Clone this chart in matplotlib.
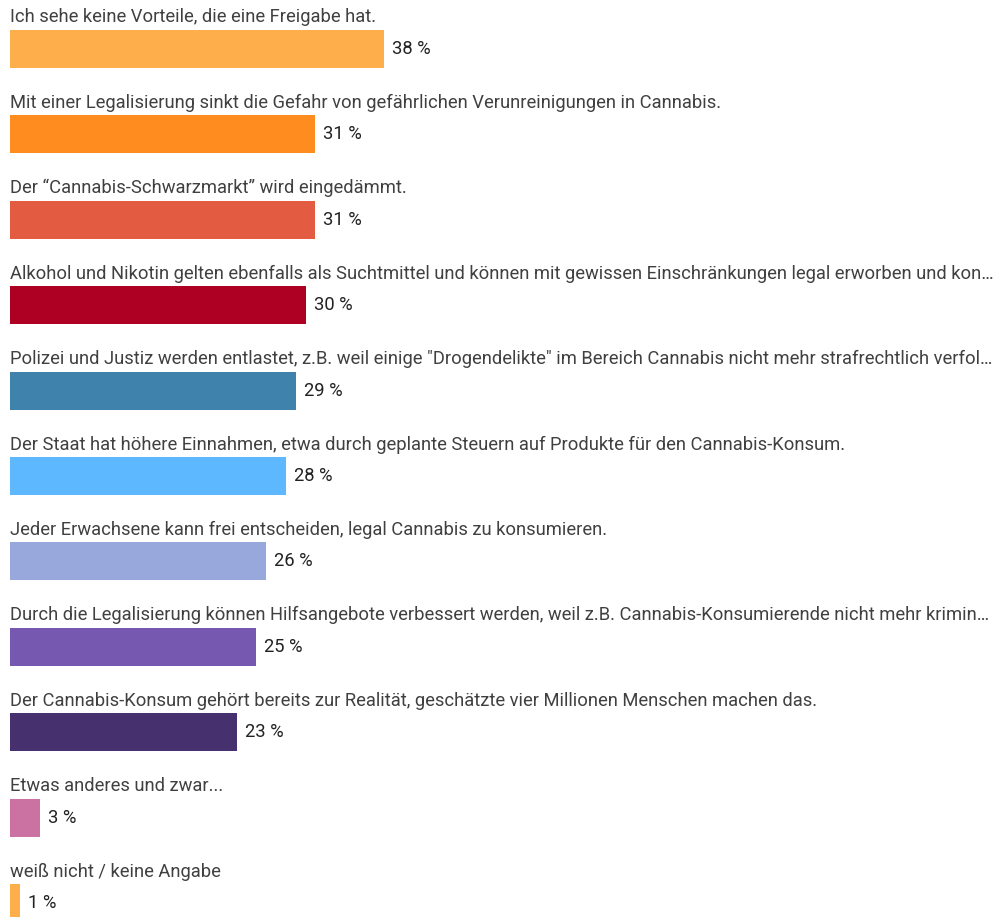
import matplotlib.pyplot as plt
import numpy as np

plt.rcParams['font.family'] = ['Roboto', 'DejaVu Sans']

answers = [
    'Ich sehe keine Vorteile, die eine Freigabe hat.',
    'Mit einer Legalisierung sinkt die Gefahr von gefährlichen Verunreinigungen in Cannabis.',
    'Der \u201cCannabis-Schwarzmarkt\u201d wird eingedämmt.',
    'Alkohol und Nikotin gelten ebenfalls als Suchtmittel und können mit gewissen Einschränkungen legal erworben und kon\u2026',
    'Polizei und Justiz werden entlastet, z.B. weil einige "Drogendelikte" im Bereich Cannabis nicht mehr strafrechtlich verfol\u2026',
    'Der Staat hat höhere Einnahmen, etwa durch geplante Steuern auf Produkte für den Cannabis-Konsum.',
    'Jeder Erwachsene kann frei entscheiden, legal Cannabis zu konsumieren.',
    'Durch die Legalisierung können Hilfsangebote verbessert werden, weil z.B. Cannabis-Konsumierende nicht mehr krimin\u2026',
    'Der Cannabis-Konsum gehört bereits zur Realität, geschätzte vier Millionen Menschen machen das.',
    'Etwas anderes und zwar...',
    'weiß nicht / keine Angabe',
]
percent = [38, 31, 31, 30, 29, 28, 26, 25, 23, 3, 1]
colors = ['#FFAE4C', '#FF8C1F', '#E35B40', '#AE0022', '#3F82AB',
          '#5EB8FF', '#98A8DC', '#7758B0', '#47306E', '#CC72A2', '#FFAE4C']

fig = plt.figure(figsize=(9.95, 9.17), dpi=100)
# 100 % spans from x=10px to the right edge
ax = fig.add_axes([10 / 995, 0, 985 / 995, 1])

row = 85.4
top = -49 / row
bottom = (917 - 49) / row

y = np.arange(len(percent))
ax.barh(y, percent, height=38 / row, color=colors, edgecolor='none')

for i, (txt, p) in enumerate(zip(answers, percent)):
    ax.text(0, i - 26.5 / row, txt, ha='left', va='baseline',
            fontsize=13.2, color='#404040')
    ax.annotate(f'{p} %', (p, i), xytext=(8, 0), textcoords='offset pixels',
                ha='left', va='center', fontsize=13.2, color='#222222')

ax.set_xlim(0, 100)
ax.set_ylim(bottom, top)
ax.axis('off')

fig.savefig('out.png', dpi=100, facecolor='white')
